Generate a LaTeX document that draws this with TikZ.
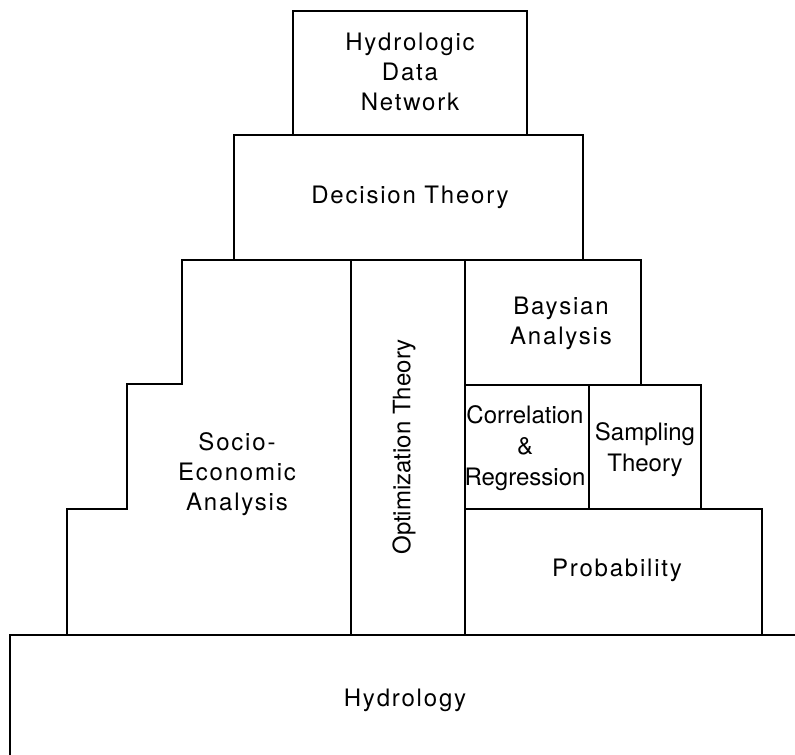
\documentclass[tikz,border=0pt]{standalone}
\usepackage{fontspec}
\setmainfont{TeX Gyre Heros}[LetterSpace=7.5]
\newfontfamily\tightfont{TeX Gyre Heros}
\usetikzlibrary{positioning}

\begin{document}
\begin{tikzpicture}[x=1bp, y=-1bp, line width=1.3bp,
    lbl/.style={align=center, inner sep=0pt, font=\fontsize{24bp}{30bp}\selectfont},
    tight/.style={align=center, inner sep=0pt, font=\tightfont\fontsize{24bp}{31bp}\selectfont}]
    \useasboundingbox (0,0) rectangle (795,755);

    % top of the pyramid
    \draw (293,135) rectangle (527,11);
    \draw (234,260) rectangle (583,135);
    \node[lbl] (network) at (410,72) {Hydrologic\\Data\\Network};
    \node[lbl] (decision) at (410,197) {Decision Theory};

    % socio-economic staircase
    \draw (641,260) -- (182,260) -- (182,384) -- (127,384) -- (127,509)
        -- (67,509) -- (67,635);
    \node[lbl] (socio) at (237,474) {Socio-\\Economic\\Analysis};

    % optimization column
    \draw (351,260) -- (351,635);
    \draw (465,260) -- (465,635);
    \node[tight, rotate=90] (optim) at (404,447) {Optimization Theory};

    % statistics blocks
    \draw (465,260) rectangle (641,385);
    \draw (465,385) rectangle (589,509);
    \draw (589,385) rectangle (701,509);
    \draw (465,509) rectangle (762,635);
    \node[lbl] (bayes) at (561,323) {Baysian\\Analysis};
    \node[tight] (corr) at (525,448) {Correlation\\\&\\Regression};
    \node[tight] (sampling) at (645,450) {Sampling\\Theory};
    \node[lbl] (prob) at (617,570) {Probability};

    % base
    \draw (10,755) -- (10,635) -- (795,635);
    \node[lbl] (hydro) at (405,700) {Hydrology};
\end{tikzpicture}
\end{document}
